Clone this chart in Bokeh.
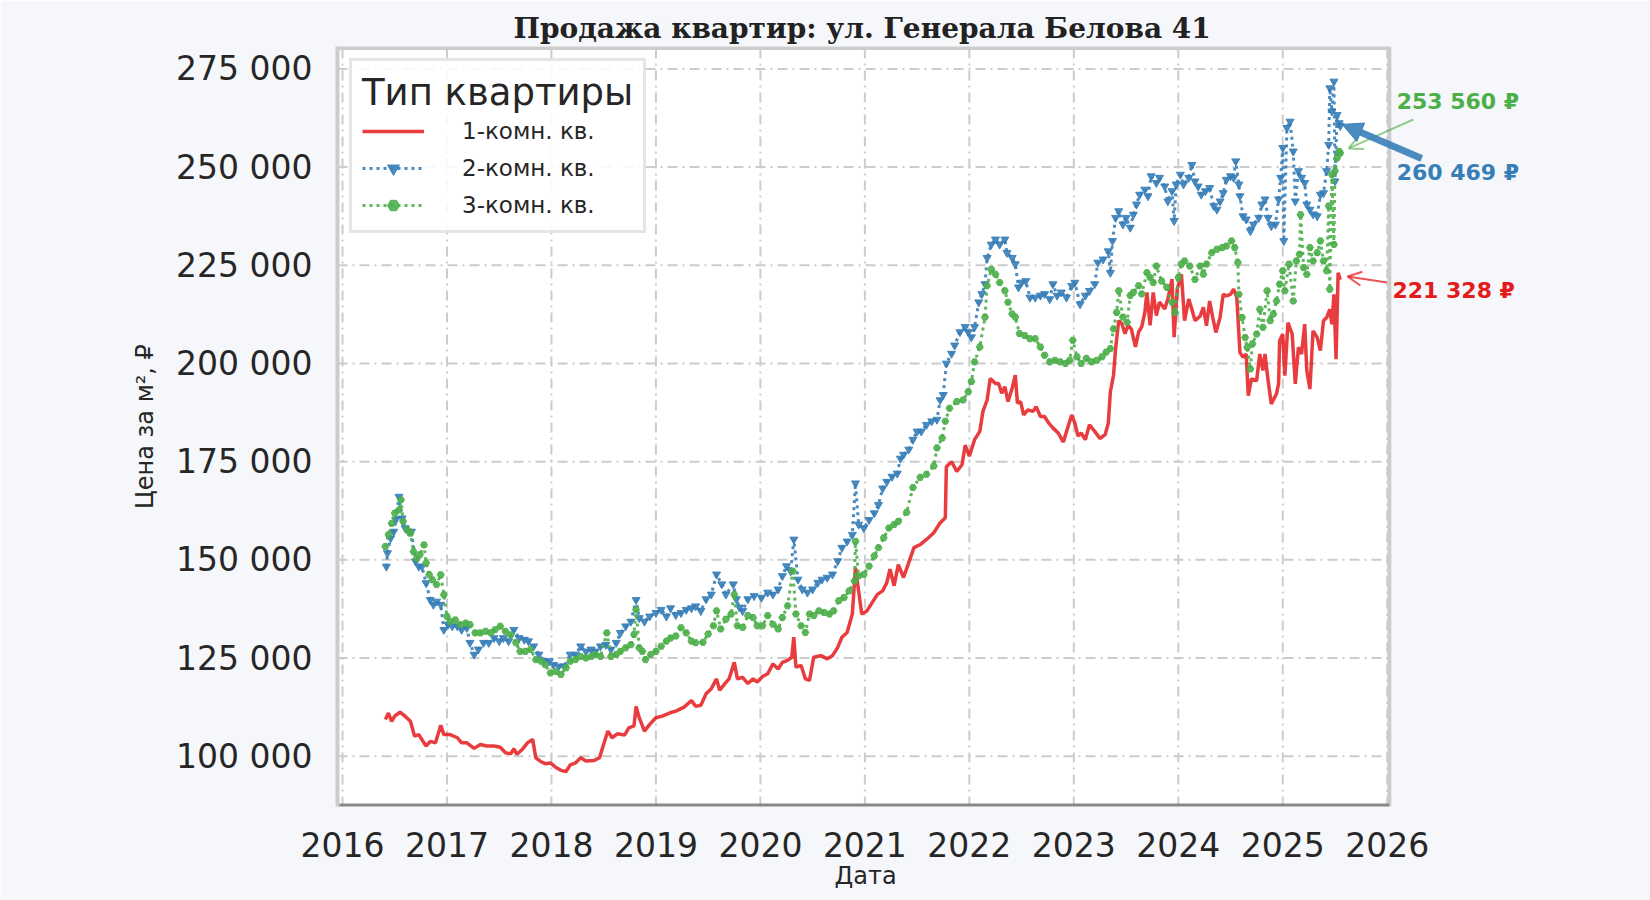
from bokeh.plotting import figure
from bokeh.models import Range1d, FixedTicker, Label, Arrow, NormalHead, OpenHead, Legend, LegendItem, Title
from bokeh.embed import file_html
from bokeh.resources import INLINE

# 1-комн. кв. (дата в долях года, цена за м2)
years1 = [2016.41, 2016.44, 2016.47, 2016.50, 2016.55, 2016.59, 2016.65, 2016.69, 2016.73, 2016.77,
          2016.80, 2016.84, 2016.89, 2016.94, 2016.97, 2017.03, 2017.10, 2017.14, 2017.19, 2017.26,
          2017.32, 2017.38, 2017.45, 2017.51, 2017.56, 2017.61, 2017.64, 2017.67, 2017.72, 2017.77,
          2017.82, 2017.85, 2017.90, 2017.94, 2017.99, 2018.04, 2018.09, 2018.14, 2018.18, 2018.23,
          2018.28, 2018.33, 2018.41, 2018.46, 2018.49, 2018.54, 2018.58, 2018.63, 2018.70, 2018.74,
          2018.79, 2018.81, 2018.84, 2018.89, 2018.94, 2019.00, 2019.06, 2019.13, 2019.19, 2019.27,
          2019.34, 2019.38, 2019.43, 2019.48, 2019.53, 2019.58, 2019.61, 2019.66, 2019.70, 2019.75,
          2019.78, 2019.83, 2019.88, 2019.93, 2019.97, 2020.02, 2020.07, 2020.12, 2020.17, 2020.21,
          2020.26, 2020.30, 2020.32, 2020.34, 2020.39, 2020.43, 2020.47, 2020.51, 2020.58, 2020.64,
          2020.69, 2020.74, 2020.78, 2020.83, 2020.88, 2020.91, 2020.94, 2020.97, 2021.02, 2021.07,
          2021.12, 2021.17, 2021.21, 2021.24, 2021.28, 2021.32, 2021.37, 2021.42, 2021.47, 2021.53,
          2021.59, 2021.66, 2021.72, 2021.77, 2021.78, 2021.83, 2021.88, 2021.93, 2021.96, 2022.00,
          2022.05, 2022.10, 2022.13, 2022.17, 2022.20, 2022.25, 2022.28, 2022.31, 2022.34, 2022.37,
          2022.41, 2022.44, 2022.46, 2022.49, 2022.52, 2022.56, 2022.61, 2022.64, 2022.68, 2022.72,
          2022.76, 2022.80, 2022.85, 2022.90, 2022.95, 2022.98, 2023.01, 2023.04, 2023.07, 2023.11,
          2023.15, 2023.20, 2023.25, 2023.30, 2023.33, 2023.35, 2023.38, 2023.40, 2023.43, 2023.46,
          2023.49, 2023.52, 2023.55, 2023.59, 2023.62, 2023.65, 2023.68, 2023.70, 2023.73, 2023.76,
          2023.79, 2023.82, 2023.87, 2023.90, 2023.94, 2023.96, 2023.99, 2024.03, 2024.06, 2024.10,
          2024.13, 2024.16, 2024.21, 2024.24, 2024.27, 2024.30, 2024.33, 2024.36, 2024.40, 2024.43,
          2024.46, 2024.50, 2024.53, 2024.56, 2024.59, 2024.62, 2024.65, 2024.67, 2024.70, 2024.75,
          2024.78, 2024.81, 2024.83, 2024.86, 2024.89, 2024.94, 2024.96, 2024.97, 2025.00, 2025.02,
          2025.05, 2025.09, 2025.12, 2025.15, 2025.18, 2025.21, 2025.23, 2025.26, 2025.29, 2025.33,
          2025.36, 2025.39, 2025.42, 2025.45, 2025.47, 2025.49, 2025.51, 2025.53, 2025.55]
price1 = [109350, 111000, 108900, 110200, 111200, 110400, 108900, 105100, 105500, 103800,
          102600, 103800, 103400, 107900, 105500, 105500, 104700, 103400, 103400, 102000,
          103000, 102600, 102600, 102300, 100900, 100600, 101900, 100500, 101700, 103400,
          104300, 99600, 98600, 98100, 98300, 97200, 96400, 96100, 97800, 98300,
          99600, 98800, 98900, 99600, 102200, 106400, 104700, 105700, 105400, 107200,
          107700, 112700, 109800, 106400, 108100, 109800, 110200, 111000, 111500, 112500,
          114200, 112700, 112960, 115900, 117200, 119700, 116800, 118500, 119700, 123900,
          119700, 120100, 118500, 119700, 118900, 120300, 121000, 123500, 122200, 123900,
          124400, 125200, 130300, 122700, 123100, 119700, 119300, 125200, 125600, 124800,
          125600, 127700, 130300, 131500, 136200, 148000, 142100, 136200, 137000, 139100,
          141200, 142100, 144200, 147600, 143400, 148800, 145500, 149300, 153100, 153900,
          155200, 156900, 159400, 160700, 173700, 175000, 172500, 174200, 179200, 176400,
          180600, 182700, 187800, 190700, 196200, 194900, 194900, 192400, 194100, 190300,
          193700, 197000, 189900, 190300, 186900, 188200, 187800, 189000, 186500, 186500,
          184800, 183600, 182300, 180000, 184400, 186900, 184800, 181500, 182300, 180600,
          184400, 182700, 180900, 181900, 184800, 192800, 197000, 203800, 210900, 210100,
          207600, 209700, 208800, 204200, 208000, 209300, 213000, 218100, 209700, 218100,
          212200, 215600, 213900, 216400, 221500, 206700, 218900, 222700, 210900, 216400,
          213800, 210900, 212100, 214300, 209600, 215900, 211700, 207900, 211700, 217600,
          217200, 217600, 218900, 216800, 202800, 201600, 202400, 191800, 196100, 195600,
          202400, 198200, 202400, 195600, 189700, 192300, 194800, 205800, 207500, 196900,
          210400, 207500, 194800, 204100, 202400, 210000, 198200, 193500, 208300, 206600,
          203300, 210900, 211700, 213800, 210000, 217600, 201100, 223100, 221328]

# 2-комн. кв.
years2 = [2016.42, 2016.43, 2016.46, 2016.49, 2016.51, 2016.54, 2016.57, 2016.60, 2016.63, 2016.66,
          2016.70, 2016.73, 2016.76, 2016.80, 2016.84, 2016.87, 2016.90, 2016.94, 2016.97, 2017.01,
          2017.05, 2017.10, 2017.14, 2017.19, 2017.22, 2017.26, 2017.30, 2017.35, 2017.40, 2017.45,
          2017.50, 2017.54, 2017.59, 2017.64, 2017.69, 2017.74, 2017.78, 2017.83, 2017.88, 2017.93,
          2017.98, 2018.02, 2018.07, 2018.12, 2018.18, 2018.23, 2018.28, 2018.33, 2018.38, 2018.42,
          2018.47, 2018.52, 2018.57, 2018.62, 2018.66, 2018.71, 2018.76, 2018.81, 2018.84, 2018.89,
          2018.94, 2019.00, 2019.05, 2019.10, 2019.14, 2019.19, 2019.24, 2019.29, 2019.34, 2019.38,
          2019.43, 2019.48, 2019.53, 2019.58, 2019.63, 2019.67, 2019.74, 2019.77, 2019.80, 2019.83,
          2019.88, 2019.94, 2020.01, 2020.07, 2020.12, 2020.17, 2020.21, 2020.25, 2020.29, 2020.32,
          2020.36, 2020.40, 2020.45, 2020.50, 2020.55, 2020.59, 2020.64, 2020.69, 2020.74, 2020.78,
          2020.83, 2020.88, 2020.91, 2020.94, 2020.99, 2021.04, 2021.09, 2021.13, 2021.17, 2021.21,
          2021.26, 2021.31, 2021.34, 2021.37, 2021.42, 2021.46, 2021.50, 2021.54, 2021.59, 2021.64,
          2021.69, 2021.72, 2021.75, 2021.78, 2021.83, 2021.86, 2021.91, 2021.96, 2021.99, 2022.02,
          2022.05, 2022.09, 2022.12, 2022.15, 2022.17, 2022.21, 2022.25, 2022.29, 2022.34, 2022.36,
          2022.41, 2022.44, 2022.47, 2022.50, 2022.54, 2022.58, 2022.63, 2022.68, 2022.72, 2022.77,
          2022.80, 2022.84, 2022.88, 2022.93, 2022.98, 2023.01, 2023.06, 2023.11, 2023.15, 2023.20,
          2023.23, 2023.28, 2023.33, 2023.35, 2023.37, 2023.40, 2023.43, 2023.47, 2023.50, 2023.54,
          2023.57, 2023.60, 2023.63, 2023.68, 2023.71, 2023.74, 2023.79, 2023.82, 2023.87, 2023.90,
          2023.94, 2023.96, 2023.98, 2024.02, 2024.05, 2024.10, 2024.13, 2024.16, 2024.19, 2024.22,
          2024.26, 2024.30, 2024.34, 2024.37, 2024.40, 2024.43, 2024.46, 2024.50, 2024.53, 2024.55,
          2024.58, 2024.59, 2024.62, 2024.65, 2024.69, 2024.72, 2024.77, 2024.80, 2024.83, 2024.86,
          2024.89, 2024.93, 2024.96, 2024.98, 2025.00, 2025.01, 2025.04, 2025.07, 2025.10, 2025.12,
          2025.15, 2025.18, 2025.21, 2025.23, 2025.26, 2025.29, 2025.33, 2025.36, 2025.39, 2025.42,
          2025.44, 2025.45, 2025.47, 2025.49, 2025.50, 2025.52, 2025.54, 2025.55]
price2 = [148300, 151700, 155500, 157200, 160200, 166100, 160600, 158100, 157200, 157200,
          149600, 148300, 148300, 144100, 139800, 138600, 139400, 138600, 132200, 133500,
          133100, 133100, 132200, 132700, 128900, 125900, 127200, 128900, 128900, 130100,
          129300, 130100, 129300, 132200, 130100, 129700, 129300, 128000, 125900, 124300,
          124200, 123300, 122900, 122900, 125900, 125900, 128000, 126700, 127200, 126700,
          128000, 128400, 127200, 128900, 131400, 133100, 134300, 139800, 135200, 134300,
          135600, 136500, 137300, 135600, 137700, 136000, 136500, 137300, 137700, 138200,
          137000, 140000, 141200, 146300, 143800, 141200, 143800, 140000, 137900, 137000,
          140000, 140800, 140400, 141700, 141200, 142500, 145900, 148400, 147100, 155200,
          145000, 142500, 141700, 142500, 144200, 145000, 145500, 146300, 149700, 153100,
          154700, 156400, 169500, 159000, 158100, 160200, 161900, 164000, 168200, 169900,
          171200, 172000, 175800, 176800, 178100, 180600, 182700, 182700, 184400, 185300,
          185700, 190700, 192000, 200000, 202500, 204600, 208000, 209300, 208000, 206700,
          209300, 215600, 217700, 220200, 226900, 230300, 231600, 230300, 231600, 228200,
          226900, 225300, 219400, 220600, 221000, 216800, 216800, 217300, 217700, 216400,
          220200, 217300, 218100, 216800, 219800, 220600, 215100, 217300, 218500, 220200,
          225700, 226500, 228600, 223100, 231200, 237100, 238800, 235400, 237100, 234600,
          237900, 240500, 243000, 244300, 242600, 247700, 246000, 247300, 245100, 241300,
          243900, 236300, 245600, 248100, 245600, 247300, 250600, 246400, 245100, 243000,
          243900, 244700, 240100, 239200, 241300, 243400, 246800, 247700, 247300, 251500,
          245600, 242600, 237500, 236700, 233700, 235400, 237100, 240500, 241800, 237100,
          235000, 235400, 241800, 247300, 254900, 231200, 260000, 261600, 254000, 241300,
          249000, 247300, 246000, 240500, 239200, 238000, 237500, 243000, 243400, 249000,
          255700, 270100, 264200, 271800, 246400, 263300, 261200, 260469]

# 3-комн. кв.
years3 = [2016.41, 2016.44, 2016.47, 2016.50, 2016.54, 2016.56, 2016.58, 2016.62, 2016.65, 2016.68,
          2016.71, 2016.74, 2016.78, 2016.80, 2016.83, 2016.86, 2016.90, 2016.94, 2016.97, 2017.00,
          2017.03, 2017.08, 2017.13, 2017.18, 2017.22, 2017.27, 2017.32, 2017.37, 2017.42, 2017.46,
          2017.51, 2017.56, 2017.61, 2017.66, 2017.70, 2017.75, 2017.80, 2017.85, 2017.90, 2017.94,
          2017.99, 2018.04, 2018.09, 2018.14, 2018.18, 2018.23, 2018.28, 2018.33, 2018.38, 2018.42,
          2018.47, 2018.53, 2018.57, 2018.62, 2018.66, 2018.71, 2018.76, 2018.79, 2018.81, 2018.84,
          2018.87, 2018.90, 2018.95, 2019.00, 2019.05, 2019.10, 2019.14, 2019.19, 2019.24, 2019.29,
          2019.34, 2019.38, 2019.45, 2019.50, 2019.55, 2019.58, 2019.62, 2019.67, 2019.72, 2019.75,
          2019.78, 2019.83, 2019.88, 2019.93, 2019.97, 2020.02, 2020.07, 2020.12, 2020.17, 2020.21,
          2020.26, 2020.31, 2020.34, 2020.39, 2020.43, 2020.47, 2020.51, 2020.56, 2020.61, 2020.66,
          2020.70, 2020.75, 2020.80, 2020.85, 2020.90, 2020.91, 2020.94, 2020.99, 2021.04, 2021.09,
          2021.13, 2021.18, 2021.23, 2021.28, 2021.32, 2021.40, 2021.46, 2021.53, 2021.59, 2021.66,
          2021.69, 2021.74, 2021.77, 2021.81, 2021.88, 2021.94, 2021.99, 2022.02, 2022.05, 2022.10,
          2022.15, 2022.17, 2022.21, 2022.25, 2022.29, 2022.34, 2022.37, 2022.41, 2022.44, 2022.48,
          2022.53, 2022.58, 2022.63, 2022.68, 2022.72, 2022.77, 2022.82, 2022.87, 2022.92, 2022.96,
          2022.99, 2023.03, 2023.07, 2023.12, 2023.17, 2023.22, 2023.27, 2023.31, 2023.35, 2023.38,
          2023.41, 2023.43, 2023.47, 2023.51, 2023.54, 2023.57, 2023.62, 2023.65, 2023.70, 2023.73,
          2023.76, 2023.79, 2023.84, 2023.89, 2023.94, 2023.97, 2024.00, 2024.03, 2024.06, 2024.11,
          2024.16, 2024.21, 2024.24, 2024.27, 2024.32, 2024.37, 2024.42, 2024.46, 2024.51, 2024.54,
          2024.57, 2024.58, 2024.61, 2024.64, 2024.66, 2024.69, 2024.71, 2024.75, 2024.78, 2024.81,
          2024.85, 2024.88, 2024.91, 2024.94, 2024.97, 2025.00, 2025.02, 2025.06, 2025.10, 2025.13,
          2025.16, 2025.17, 2025.20, 2025.23, 2025.26, 2025.29, 2025.33, 2025.36, 2025.39, 2025.42,
          2025.44, 2025.45, 2025.47, 2025.49, 2025.50, 2025.52, 2025.54, 2025.55]
price3 = [153400, 156400, 159300, 161900, 162700, 165300, 159800, 157600, 156800, 152100,
          150400, 151300, 153800, 149200, 146200, 144900, 143700, 146200, 141100, 135600,
          134300, 134700, 133500, 133900, 133500, 131400, 131400, 131800, 131400, 132200,
          133100, 131800, 130900, 128900, 126700, 126700, 127200, 124600, 124200, 123300,
          121200, 121600, 120800, 122500, 124200, 124600, 125400, 125000, 125400, 125900,
          125400, 131400, 125400, 125900, 126700, 127600, 128400, 131000, 137300, 127600,
          126700, 124600, 125900, 126700, 128000, 129300, 130100, 130600, 132700, 131400,
          129300, 128900, 129000, 131100, 133200, 137000, 132400, 134900, 136200, 141200,
          133200, 132800, 135800, 135300, 133200, 133200, 135800, 133600, 132400, 135300,
          138300, 147100, 136200, 133200, 131500, 136200, 135800, 137000, 136600, 136200,
          137000, 139600, 140400, 142100, 144600, 154700, 145900, 146300, 148400, 151000,
          153100, 155600, 158100, 159000, 159800, 162100, 168400, 171000, 171800, 173900,
          178500, 181000, 185300, 188600, 190300, 190700, 192800, 195400, 200400, 204200,
          211800, 219800, 224000, 222700, 220600, 218500, 215600, 212600, 211800, 207600,
          207100, 206300, 206300, 204200, 202100, 200400, 200800, 200400, 200000, 200800,
          205900, 201700, 200000, 201300, 200400, 200800, 201700, 202900, 203800, 208800,
          213000, 218500, 211800, 210500, 217300, 218100, 219800, 217700, 223100, 221900,
          220600, 224800, 221000, 219400, 215600, 213000, 221900, 225300, 226100, 224800,
          221400, 224800, 222700, 225300, 228200, 229100, 229500, 229900, 231200, 229500,
          225700, 217600, 211700, 206600, 204100, 198600, 205000, 207500, 213800, 209200,
          218500, 210900, 212600, 215900, 220200, 223600, 218500, 225300, 215900, 226100,
          227800, 237900, 224400, 222700, 229500, 226100, 228200, 231200, 226100, 223600,
          240100, 218900, 248100, 230300, 249000, 252300, 254000, 253560]

year_ticks = list(range(2016, 2027))
price_ticks = list(range(100000, 275001, 25000))

red = "#e41a1c"
blue = "#377eb8"
green = "#4daf4a"
font = "DejaVu Sans"
page_bg = "#f5f7fa"

# область графика (данные); справа от неё остаётся место под подписи
x0, x1 = 2015.952, 2026.02
y0, y1 = 87200, 280700


def rub(v):
    return f"{v:,}".replace(",", " ")


p = figure(width=1650, height=900, output_backend="svg", toolbar_location=None,
           x_range=Range1d(x0, 2028.52), y_range=Range1d(y0, y1),
           min_border_left=337, min_border_right=0, min_border_top=46, min_border_bottom=94,
           background_fill_color=page_bg, border_fill_color=page_bg,
           title="Продажа квартир: ул. Генерала Белова 41")
p.outline_line_color = None
p.grid.visible = False

p.title.text_font = "DejaVu Serif"
p.title.text_font_style = "bold"
p.title.text_font_size = "28px"
p.title.text_color = "#222222"
p.title.align = "left"
p.title.offset = 176
p.title.vertical_align = "top"
p.title.standoff = 0

# белое поле, сетка и рамка
p.quad(left=x0, right=x1, bottom=y0, top=y1, fill_color="white", line_color=None)
p.segment(x0=year_ticks, y0=[y0] * len(year_ticks), x1=year_ticks, y1=[y1] * len(year_ticks),
          line_color="#cccccc", line_width=2, line_dash="10 5 2 5")
p.segment(x0=[x0] * len(price_ticks), y0=price_ticks, x1=[x1] * len(price_ticks), y1=price_ticks,
          line_color="#cccccc", line_width=2, line_dash="10 5 2 5")
p.segment(x0=[x0], y0=[y1], x1=[x1], y1=[y1], line_color="#cccccc", line_width=7)
p.segment(x0=[x1], y0=[y0], x1=[x1], y1=[y1], line_color="#cccccc", line_width=4)
p.segment(x0=[x0], y0=[y0], x1=[x1], y1=[y0], line_color="#888888", line_width=6)

p.xaxis.ticker = FixedTicker(ticks=year_ticks)
p.xaxis.major_label_overrides = {y: str(y) for y in year_ticks}
p.yaxis.ticker = FixedTicker(ticks=price_ticks)
p.yaxis.major_label_overrides = {t: rub(t) for t in price_ticks}

for ax in (p.xaxis[0], p.yaxis[0]):
    ax.major_tick_out = 0
    ax.major_tick_in = 0
    ax.minor_tick_out = 0
    ax.minor_tick_in = 0
    ax.major_label_text_font = font
    ax.major_label_text_font_size = "33px"
    ax.major_label_text_color = "#262626"
    ax.axis_label_text_font = font
    ax.axis_label_text_font_size = "24px"
    ax.axis_label_text_font_style = "normal"
    ax.axis_label_text_color = "#262626"

p.xaxis.axis_line_color = None
p.xaxis.major_label_standoff = 25

# подпись оси X под центром области данных
p.add_layout(Title(text="Дата", text_font=font, text_font_size="24px", text_font_style="normal",
                   text_color="#262626", align="left", offset=497, vertical_align="bottom",
                   standoff=0), "below")

p.yaxis.axis_label = "Цена за м², ₽"
p.yaxis.axis_line_color = "#cccccc"
p.yaxis.axis_line_width = 4
p.yaxis.major_label_standoff = 25
p.yaxis.axis_label_standoff = 14

r1 = p.line(years1, price1, line_color=red, line_width=3.5, line_alpha=0.85)
r2l = p.line(years2, price2, line_color=blue, line_width=3, line_dash="3 4", line_alpha=0.9)
r2m = p.scatter(years2, price2, marker="inverted_triangle", size=8, color=blue, alpha=0.9)
r3l = p.line(years3, price3, line_color=green, line_width=3, line_dash="3 4", line_alpha=0.9)
r3m = p.scatter(years3, price3, marker="hex", size=7, color=green, alpha=0.9)

legend = Legend(items=[LegendItem(label="1-комн. кв.", renderers=[r1]),
                       LegendItem(label="2-комн. кв.", renderers=[r2l, r2m]),
                       LegendItem(label="3-комн. кв.", renderers=[r3l, r3m])],
                location="top_left", title="Тип квартиры")
legend.title_text_font = font
legend.title_text_font_size = "37px"
legend.title_text_font_style = "normal"
legend.title_text_color = "#262626"
legend.title_standoff = 2
legend.label_text_font = font
legend.label_text_font_size = "23px"
legend.label_text_color = "#262626"
legend.glyph_width = 62
legend.glyph_height = 30
legend.label_height = 30
legend.label_standoff = 38
legend.spacing = 7
legend.padding = 10
legend.margin = 12
legend.border_line_color = "#cccccc"
legend.border_line_width = 3
legend.background_fill_alpha = 0.85
p.add_layout(legend)

# подписи последних значений
p.add_layout(Label(x=2026.09, y=266700, text=rub(price3[-1]) + " ₽", text_color=green,
                   text_font=font, text_font_style="bold", text_font_size="22px",
                   text_align="left", text_baseline="middle"))
p.add_layout(Label(x=2026.09, y=248700, text=rub(price2[-1]) + " ₽", text_color=blue,
                   text_font=font, text_font_style="bold", text_font_size="22px",
                   text_align="left", text_baseline="middle"))
p.add_layout(Label(x=2026.05, y=218460, text=rub(price1[-1]) + " ₽", text_color=red,
                   text_font=font, text_font_style="bold", text_font_size="22px",
                   text_align="left", text_baseline="middle"))

p.add_layout(Arrow(end=OpenHead(size=14, line_color=green, line_width=2, line_alpha=0.6),
                   x_start=2026.25, y_start=262120, x_end=years3[-1] + 0.08, y_end=price3[-1] + 1200,
                   line_color=green, line_width=2, line_alpha=0.6))
p.add_layout(Arrow(end=NormalHead(size=20, fill_color=blue, line_color=blue, fill_alpha=0.9),
                   x_start=2026.33, y_start=252190, x_end=years2[-1] + 0.02, y_end=price2[-1] + 400,
                   line_color=blue, line_width=7, line_alpha=0.9))
p.add_layout(Arrow(end=OpenHead(size=14, line_color=red, line_width=2, line_alpha=0.75),
                   x_start=2026.0, y_start=220620, x_end=years1[-1] + 0.07, y_end=price1[-1] + 800,
                   line_color=red, line_width=2, line_alpha=0.75))

open("out.html", "w").write(file_html(p, INLINE))
